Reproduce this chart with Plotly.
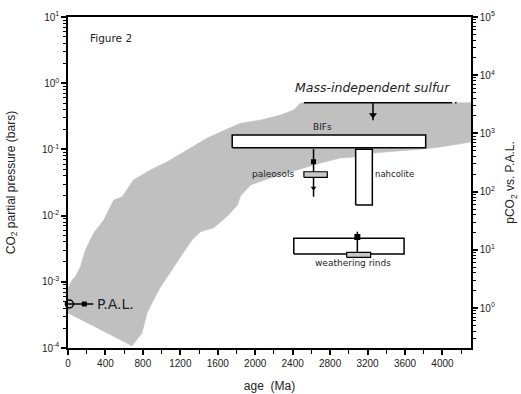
import math
import plotly.graph_objects as go

# ---------------- data ----------------
band_upper_age = [0, 43, 78, 132, 185, 274, 381, 488, 578, 698, 880, 1059, 1273, 1487, 1700,
                  1843, 2057, 2270, 2410, 2484, 2516, 4305]
band_upper_pco2 = [8.0e-4, 1.06e-3, 1.19e-3, 1.69e-3, 3.0e-3, 5.46e-3, 8.6e-3, 0.0172, 0.0193,
                   0.0345, 0.0489, 0.0652, 0.098, 0.149, 0.203, 0.248, 0.278, 0.331, 0.394,
                   0.502, 0.507, 0.507]
band_lower_age = [0, 57, 631, 684, 791, 845, 898, 987, 1126, 1273, 1326, 1415, 1554, 1629, 1704,
                  1811, 1843, 1950, 2164, 2449, 2698, 2912, 3126, 3265, 3800, 3982, 4305]
band_lower_pco2 = [3.38e-4, 3.15e-4, 1.18e-4, 1.07e-4, 1.69e-4, 3.38e-4, 4.79e-4, 8.3e-4, 1.67e-3,
                   3.36e-3, 4.28e-3, 5.71e-3, 6.5e-3, 8.0e-3, 9.86e-3, 0.0145, 0.0198, 0.029,
                   0.037, 0.0489, 0.0624, 0.0741, 0.0776, 0.0883, 0.1014, 0.1086, 0.129]

bif_age = [1754, 3821]
bif_pco2 = [0.106, 0.165]

nahcolite_age = [3073, 3251]
nahcolite_pco2 = [0.01445, 0.1005]

paleosol_age = 2623
paleosol_line_pco2 = [0.101, 0.0193]
paleosol_marker_pco2 = [0.0652, 0.0261]
paleosol_box_age = [2520, 2770]
paleosol_box_pco2 = [0.0379, 0.046]

rinds_box_age = [2412, 3590]
rinds_box_pco2 = [2.63e-3, 4.54e-3]
rinds_small_age = [2977, 3233]
rinds_small_pco2 = [2.34e-3, 2.79e-3]
rinds_age = 3091
rinds_line_pco2 = [5.71e-3, 2.82e-3]
rinds_marker_pco2 = 4.75e-3

mif_age = [2520, 4071]
mif_dots_age = [4071, 4150]
mif_pco2 = 0.507
mif_arrow_age = 3258
mif_arrow_pco2 = [0.507, 0.275]
mif_marker_pco2 = 0.331

pal_pco2 = 4.62e-4
pal_line_age = [0, 270]
pal_circle_age = 15
pal_square_age = 174

x_ticks = [0, 400, 800, 1200, 1600, 2000, 2400, 2800, 3200, 3600, 4000]
y_left_ticks = [1e-4, 1e-3, 1e-2, 1e-1, 1e0, 1e1]
y_left_text = ["10<sup>-4</sup>", "10<sup>-3</sup>", "10<sup>-2</sup>", "10<sup>-1</sup>",
               "10<sup>0</sup>", "10<sup>1</sup>"]
y_right_ticks = [1e0, 1e1, 1e2, 1e3, 1e4, 1e5]
y_right_text = ["10<sup>0</sup>", "10<sup>1</sup>", "10<sup>2</sup>", "10<sup>3</sup>",
                "10<sup>4</sup>", "10<sup>5</sup>"]

FONT = "Arial, Liberation Sans, sans-serif"
WIDE = "DejaVu Sans, Verdana, sans-serif"
GREY = "#c0c0c0"


def minor_log(lo_exp, hi_exp):
    return [m * 10 ** e for e in range(lo_exp, hi_exp) for m in range(2, 10)]


fig = go.Figure()


def box(xs, ys, fill, width=1.5):
    fig.add_trace(go.Scatter(
        x=[xs[0], xs[1], xs[1], xs[0], xs[0]],
        y=[ys[0], ys[0], ys[1], ys[1], ys[0]],
        mode="lines", fill="toself", fillcolor=fill,
        line=dict(color="black", width=width), hoverinfo="skip"))


# grey band
fig.add_trace(go.Scatter(
    x=band_upper_age + band_lower_age[::-1],
    y=band_upper_pco2 + band_lower_pco2[::-1],
    mode="lines", fill="toself", fillcolor=GREY,
    line=dict(color=GREY, width=0.5), hoverinfo="skip"))

# mass-independent sulfur
fig.add_trace(go.Scatter(x=mif_age, y=[mif_pco2] * 2, mode="lines",
                         line=dict(color="black", width=1.5)))
fig.add_trace(go.Scatter(x=mif_dots_age, y=[mif_pco2] * 2, mode="lines",
                         line=dict(color="black", width=1.5, dash="dot")))
fig.add_trace(go.Scatter(x=[mif_arrow_age] * 2, y=mif_arrow_pco2, mode="lines",
                         line=dict(color="black", width=1.5)))
fig.add_trace(go.Scatter(x=[mif_arrow_age], y=[mif_marker_pco2], mode="markers",
                         marker=dict(symbol="triangle-down", size=7, color="black")))

# paleosols
fig.add_trace(go.Scatter(x=[paleosol_age] * 2, y=paleosol_line_pco2, mode="lines",
                         line=dict(color="black", width=1.5)))
fig.add_trace(go.Scatter(x=[paleosol_age] * 2, y=paleosol_marker_pco2, mode="markers",
                         marker=dict(symbol=["square", "triangle-down"], size=5, color="black")))
box(paleosol_box_age, paleosol_box_pco2, "#c8c8c8", 1.2)

# BIFs
box(bif_age, bif_pco2, "white")

# nahcolite
box(nahcolite_age, nahcolite_pco2, "white")

# weathering rinds
box(rinds_box_age, rinds_box_pco2, "white")
box(rinds_small_age, rinds_small_pco2, "#c8c8c8", 1.2)
fig.add_trace(go.Scatter(x=[rinds_age] * 2, y=rinds_line_pco2, mode="lines",
                         line=dict(color="black", width=1.5)))
fig.add_trace(go.Scatter(x=[rinds_age], y=[rinds_marker_pco2], mode="markers",
                         marker=dict(symbol="square", size=6, color="black")))

# P.A.L.
fig.add_trace(go.Scatter(x=pal_line_age, y=[pal_pco2] * 2, mode="lines",
                         line=dict(color="black", width=1.5), cliponaxis=False))
fig.add_trace(go.Scatter(x=[pal_square_age], y=[pal_pco2], mode="markers",
                         marker=dict(symbol="square", size=5, color="black")))
fig.add_trace(go.Scatter(x=[pal_circle_age], y=[pal_pco2], mode="markers", cliponaxis=False,
                         marker=dict(symbol="circle-open", size=8, color="black",
                                     line=dict(width=1.5))))

# dummy trace for right axis
fig.add_trace(go.Scatter(x=[None], y=[None], yaxis="y2", mode="markers", hoverinfo="skip"))

# annotations
ann = [
    dict(x=217, y=4.82, text="Figure 2", xanchor="left", size=10.5),
    dict(x=3249, y=0.861, text="<i>Mass-independent sulfur</i>", xanchor="center", size=12.5),
    dict(x=2720, y=0.218, text="BIFs", xanchor="center", size=9),
    dict(x=2440, y=0.0425, text="paleosols", xanchor="right", size=9),
    dict(x=3262, y=0.0425, text="nahcolite", xanchor="left", size=8.5),
    dict(x=3046, y=1.92e-3, text="weathering rinds", xanchor="center", size=9),
    dict(x=293, y=pal_pco2, text="P.A.L.", xanchor="left", size=14),
]
for a in ann:
    fig.add_annotation(x=a["x"], y=math.log10(a["y"]), yref="y", xref="x", text=a["text"],
                       xanchor=a["xanchor"], yanchor="middle", showarrow=False,
                       font=dict(family=WIDE, size=a["size"], color="#222222"))

axis_common = dict(showgrid=False, zeroline=False, showline=True, linecolor="black",
                   linewidth=1.5, ticks="outside", tickcolor="black", ticklen=5, tickwidth=1.5,
                   automargin=False,
                   tickfont=dict(family=FONT, size=10, color="#222222"))

fig.update_layout(
    width=521, height=394,
    margin=dict(l=68, r=50, t=17, b=46),
    plot_bgcolor="white", paper_bgcolor="white",
    showlegend=False,
    font=dict(family=FONT, color="#222222"),
    xaxis=dict(range=[0, 4305], tickmode="array", tickvals=x_ticks, mirror=True,
               minor=dict(tickmode="array", tickvals=list(range(200, 4305, 400)),
                          ticks="outside", ticklen=4, tickcolor="black", tickwidth=1),
               title=dict(text="age  (Ma)", font=dict(family=FONT, size=12), standoff=14),
               **axis_common),
    yaxis=dict(type="log", range=[-4, 1], tickmode="array", tickvals=y_left_ticks,
               ticktext=y_left_text,
               minor=dict(tickmode="array", tickvals=minor_log(-4, 1),
                          ticks="outside", ticklen=3, tickcolor="black", tickwidth=1),
               title=dict(text="CO<sub>2</sub> partial pressure (bars)",
                          font=dict(family=FONT, size=12), standoff=24),
               **axis_common),
    yaxis2=dict(type="log", range=[-0.687, 5], overlaying="y", side="right",
                tickmode="array", tickvals=y_right_ticks, ticktext=y_right_text,
                minor=dict(tickmode="array", tickvals=minor_log(-1, 5),
                           ticks="outside", ticklen=3, tickcolor="black", tickwidth=1),
                title=dict(text="pCO<sub>2</sub> vs. P.A.L.",
                           font=dict(family=FONT, size=12), standoff=12),
                **axis_common),
)

fig.write_html("out.html", config={"displayModeBar": False},
               post_script="document.body.style.margin='0px';")
